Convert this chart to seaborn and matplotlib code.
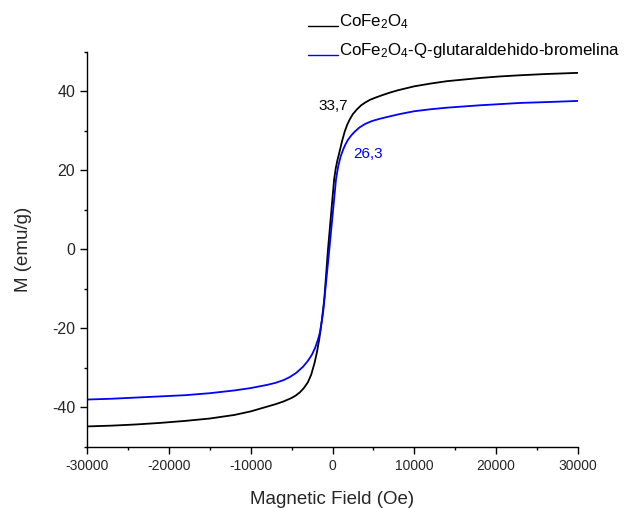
import matplotlib
matplotlib.use("Agg")
import matplotlib.pyplot as plt
import seaborn as sns
import pandas as pd
from matplotlib.ticker import MultipleLocator
from matplotlib.lines import Line2D

# Data (H in Oe, M in emu/g)
h_cofe = [-30000, -27000, -24000, -21000, -18000, -15000, -12000, -10000, -8000, -7000,
          -6000, -5000, -4500, -4000, -3500, -3000, -2600, -2200, -1900, -1600,
          -1300, -1000, -550, 200, 400, 600, 900, 1200, 1500, 1800,
          2100, 2500, 3000, 3500, 4000, 4600, 5200, 6000, 7000, 8000,
          9000, 10000, 12000, 14000, 16000, 18000, 20500, 23000, 26000, 30000]
m_cofe = [-44.8, -44.6, -44.3, -43.9, -43.4, -42.8, -41.9, -41.0, -39.8, -39.2,
          -38.5, -37.6, -37.0, -36.2, -35.1, -33.6, -31.7, -28.8, -26.0, -22.5,
          -18.0, -12.5, 0.0, 17.7, 20.5, 22.5, 25.0, 27.6, 29.8, 31.5,
          32.8, 34.2, 35.4, 36.4, 37.1, 37.8, 38.3, 38.9, 39.6, 40.2,
          40.7, 41.2, 41.9, 42.5, 42.9, 43.3, 43.7, 44.0, 44.3, 44.6]

h_bro = [-30000, -27000, -24000, -21000, -18000, -15000, -12000, -10000, -8000, -7000,
         -6000, -5200, -4400, -3600, -3000, -2500, -2100, -1800, -1528, -1300,
         -1124, -385, 430, 700, 1000, 1320, 1600, 1900, 2300, 2700,
         3300, 4000, 4800, 5800, 7000, 8250, 10000, 12000, 14000, 16000,
         18000, 20500, 23000, 26000, 30000]
m_bro = [-38.0, -37.8, -37.5, -37.2, -36.9, -36.4, -35.7, -35.1, -34.3, -33.8,
         -33.1, -32.3, -31.2, -29.7, -28.2, -26.6, -24.8, -23.0, -21.0, -18.0,
         -15.5, 0.0, 17.7, 21.0, 23.5, 25.3, 26.6, 27.7, 28.8, 29.7,
         30.8, 31.7, 32.4, 33.0, 33.6, 34.2, 34.9, 35.4, 35.8, 36.1,
         36.4, 36.7, 37.0, 37.2, 37.5]

series_labels = [r"CoFe$_2$O$_4$", r"CoFe$_2$O$_4$-Q-glutaraldehido-bromelina"]
annot_text = ["33,7", "26,3"]
annot_pos = [(61, 36.2), (4340, 24.0)]
colors = ["#000000", "#0000ff"]

sns.set_style("ticks")
plt.rcParams["font.family"] = ["Liberation Sans", "DejaVu Sans"]
plt.rcParams["mathtext.fontset"] = "custom"
plt.rcParams["mathtext.rm"] = "Liberation Sans"
plt.rcParams["mathtext.it"] = "Liberation Sans:italic"
plt.rcParams["mathtext.bf"] = "Liberation Sans:bold"
plt.rcParams["axes.unicode_minus"] = False

fig = plt.figure(figsize=(6.36, 5.08), dpi=100)
ax = fig.add_axes([87/636, 1-447/508, (578-87)/636, (447-51.5)/508])

df1 = pd.DataFrame({"H": h_cofe, "M": m_cofe})
df2 = pd.DataFrame({"H": h_bro, "M": m_bro})
sns.lineplot(data=df1, x="H", y="M", ax=ax, color=colors[0], lw=1.3,
             sort=False, estimator=None, legend=False)
sns.lineplot(data=df2, x="H", y="M", ax=ax, color=colors[1], lw=1.3,
             sort=False, estimator=None, legend=False)

for t, (x, y), c in zip(annot_text, annot_pos, colors):
    ax.text(x, y, t, color=c, fontsize=11, ha="center", va="center")

ax.set_xlim(-30000, 30000)
ax.set_ylim(-50, 50)
ax.xaxis.set_major_locator(MultipleLocator(10000))
ax.xaxis.set_minor_locator(MultipleLocator(5000))
ax.yaxis.set_major_locator(MultipleLocator(20))
ax.yaxis.set_minor_locator(MultipleLocator(10))
ax.tick_params(axis="both", which="major", direction="out", length=5, width=1, color="black")
ax.tick_params(axis="both", which="minor", direction="out", length=2.5, width=1, color="black")
ax.tick_params(axis="x", labelsize=10)
ax.tick_params(axis="y", labelsize=11.5)
sns.despine(ax=ax)
for s in ["left", "bottom"]:
    ax.spines[s].set_color("black")
    ax.spines[s].set_linewidth(1)

ax.set_xlabel("Magnetic Field (Oe)", fontsize=13.5, labelpad=13)
ax.set_ylabel("M (emu/g)", fontsize=13.5, labelpad=14)

# Legend (key line sits on the text baseline, as in the reference)
legend_baselines = [26, 55]
for lab, c, yb in zip(series_labels, colors, legend_baselines):
    yf = 1 - yb / 508
    fig.add_artist(Line2D([308/636, 338/636], [yf, yf], color=c, lw=1.0,
                          transform=fig.transFigure))
    fig.text(339/636, yf, lab, fontsize=12.2, color="black", ha="left", va="baseline")

fig.savefig("out.png", dpi=100)
